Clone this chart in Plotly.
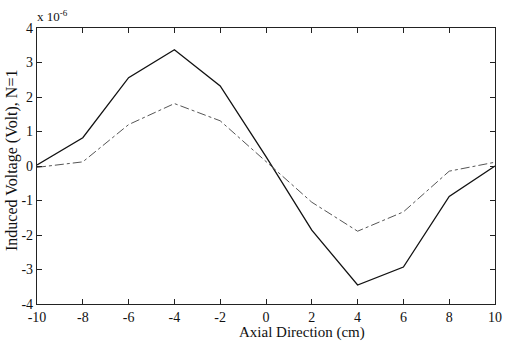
import plotly.graph_objects as go

x_cm = [-10, -8, -6, -4, -2, 0, 2, 4, 6, 8, 10]
solid_v = [0.03, 0.82, 2.56, 3.37, 2.32, 0.27, -1.86, -3.45, -2.93, -0.88, 0.0]
dashdot_v = [-0.04, 0.12, 1.2, 1.81, 1.31, 0.12, -1.05, -1.89, -1.33, -0.15, 0.11]

x_ticks = [-10, -8, -6, -4, -2, 0, 2, 4, 6, 8, 10]
x_ticktext = ["-10", "-8", "-6", "-4", "-2", "0", "2", "4", "6", "8", "10"]
y_ticks = [-4, -3, -2, -1, 0, 1, 2, 3, 4]
y_ticktext = ["-4", "-3", "-2", "-1", "0", "1", "2", "3", "4"]

font = "Liberation Serif, Times New Roman, serif"

fig = go.Figure()
fig.add_trace(go.Scatter(x=x_cm, y=solid_v, mode="lines",
                         line=dict(color="#111111", width=1.3)))
fig.add_trace(go.Scatter(x=x_cm, y=dashdot_v, mode="lines",
                         line=dict(color="#555555", width=1, dash="dashdot")))

axis_common = dict(showgrid=False, zeroline=False, showline=True, linecolor="#222222",
                   linewidth=1.2, mirror="ticks", ticks="inside", ticklen=5,
                   tickcolor="#222222", ticklabeloverflow="allow",
                   tickfont=dict(family=font, size=14, color="#111111"))

fig.update_layout(
    width=511, height=344,
    margin=dict(l=37, r=9, t=28, b=40),
    paper_bgcolor="white", plot_bgcolor="white",
    showlegend=False,
    font=dict(family=font, color="#111111"),
    xaxis=dict(range=[-10, 10], tickvals=x_ticks, ticktext=x_ticktext, **axis_common),
    yaxis=dict(range=[-4, 4], tickvals=y_ticks, ticktext=y_ticktext, **axis_common),
)
fig.add_annotation(text="Axial Direction (cm)", xref="paper", yref="paper",
                   x=(306 - 37) / 465, y=0, xanchor="center", yanchor="middle", yshift=-28,
                   showarrow=False, font=dict(family=font, size=15, color="#111111"))
fig.add_annotation(text="Induced Voltage (Volt), N=1", xref="paper", yref="paper",
                   x=0, y=(304 - 161) / 276, xanchor="center", yanchor="middle", xshift=-25,
                   textangle=-90,
                   showarrow=False, font=dict(family=font, size=16, color="#111111"))
fig.add_annotation(text="x 10<sup>-6</sup>", xref="paper", yref="paper",
                   x=0, y=1, xanchor="left", yanchor="bottom", yshift=2, xshift=-2,
                   showarrow=False, font=dict(family=font, size=13, color="#111111"))
fig.write_html("out.html", config={"displayModeBar": False},
               post_script="document.body.style.margin='0';document.body.style.overflow='hidden';")
